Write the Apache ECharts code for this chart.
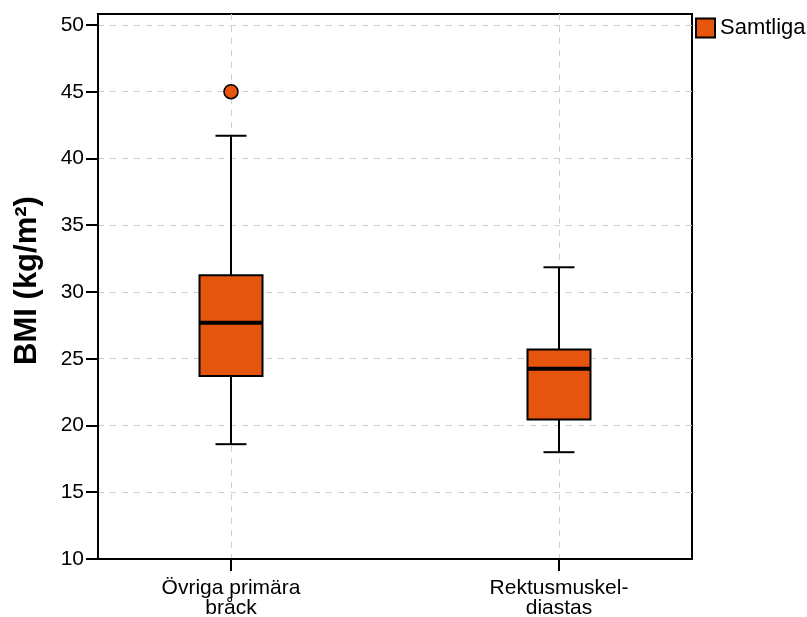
<!DOCTYPE html>
<html><head><meta charset="utf-8">
<script src="https://cdn.jsdelivr.net/npm/echarts@6/dist/echarts.min.js"></script>
<style>html,body{margin:0;padding:0;background:#fff}#c{width:807px;height:617px}</style>
</head><body><div id="c"></div>
<script>
const categories = ['Övriga primära\nbråck', 'Rektusmuskel-\ndiastas'];
const whiskerLow = [18.6, 18.0];
const q1 = [23.7, 20.45];
const median = [27.7, 24.25];
const q3 = [31.25, 25.7];
const whiskerHigh = [41.7, 31.85];
const outlierCategory = [0];
const outlierValue = [45];
const yTicks = [10, 15, 20, 25, 30, 35, 40, 45, 50];
const seriesName = 'Samtliga';

const FONT = '"Liberation Sans", Arial, Helvetica, sans-serif';
const FILL = '#E6550D';

const boxData = categories.map((c, i) => [i, whiskerLow[i], q1[i], median[i], q3[i], whiskerHigh[i]]);
const outlierData = outlierCategory.map((c, i) => [c, outlierValue[i]]);

const chart = echarts.init(document.getElementById('c'), null, {renderer: 'canvas'});
chart.setOption({
  animation: false,
  backgroundColor: '#fff',
  textStyle: {fontFamily: FONT},
  grid: {left: 98, right: 115, top: 14, bottom: 58, show: true, borderColor: '#000', borderWidth: 2, containLabel: false, outerBoundsMode: 'none'},
  legend: {
    data: [seriesName], left: 695, top: 17, padding: 0,
    itemWidth: 19, itemHeight: 19, icon: 'rect',
    textStyle: {fontFamily: FONT, fontSize: 22, color: '#000'},
    itemStyle: {borderColor: '#000', borderWidth: 2}
  },
  xAxis: {
    type: 'value', min: -0.4055, max: 1.4055,
    axisLine: {show: true, onZero: false, lineStyle: {color: '#000', width: 2}},
    axisTick: {show: true, customValues: [0, 1], length: 12, lineStyle: {color: '#000', width: 2}},
    axisLabel: {customValues: [0, 1], formatter: v => categories[Math.round(v)], fontSize: 21, lineHeight: 20, color: '#000', margin: 19, fontFamily: FONT},
    splitLine: {show: true, lineStyle: {color: '#cfcfcf', type: [6, 6], width: 1}}
  },
  yAxis: {
    type: 'value', min: 10, max: 50.82,
    name: 'BMI (kg/m²)', nameLocation: 'middle', nameGap: 55,
    nameTextStyle: {fontSize: 31, fontWeight: 'bold', color: '#000', fontFamily: FONT, padding: [0, 0, 0, 12]},
    axisLine: {show: true, onZero: false, lineStyle: {color: '#000', width: 2}},
    axisTick: {show: true, customValues: yTicks, length: 12, lineStyle: {color: '#000', width: 2}},
    axisLabel: {customValues: yTicks, fontSize: 21, color: '#000', margin: 14, fontFamily: FONT},
    splitLine: {show: true, lineStyle: {color: '#cfcfcf', type: [6, 6], width: 1}}
  },
  series: [
    {
      name: seriesName, type: 'custom',
      itemStyle: {color: FILL, borderColor: '#000', borderWidth: 2},
      encode: {x: 0, y: [1, 2, 3, 4, 5]},
      data: boxData,
      renderItem: function (params, api) {
        const x = api.value(0);
        const pLo = api.coord([x, api.value(1)]);
        const pQ1 = api.coord([x, api.value(2)]);
        const pMed = api.coord([x, api.value(3)]);
        const pQ3 = api.coord([x, api.value(4)]);
        const pHi = api.coord([x, api.value(5)]);
        const cx = pLo[0];
        const boxW = 63, capW = 31;
        const line = {stroke: '#000', lineWidth: 2};
        return {
          type: 'group',
          children: [
            {type: 'line', shape: {x1: cx, y1: pHi[1], x2: cx, y2: pQ3[1]}, style: line},
            {type: 'line', shape: {x1: cx, y1: pQ1[1], x2: cx, y2: pLo[1]}, style: line},
            {type: 'line', shape: {x1: cx - capW / 2, y1: pHi[1], x2: cx + capW / 2, y2: pHi[1]}, style: line},
            {type: 'line', shape: {x1: cx - capW / 2, y1: pLo[1], x2: cx + capW / 2, y2: pLo[1]}, style: line},
            {type: 'rect', shape: {x: cx - boxW / 2, y: pQ3[1], width: boxW, height: pQ1[1] - pQ3[1]}, style: {fill: FILL, stroke: '#000', lineWidth: 2}},
            {type: 'line', shape: {x1: cx - boxW / 2, y1: pMed[1], x2: cx + boxW / 2, y2: pMed[1]}, style: {stroke: '#000', lineWidth: 4}}
          ]
        };
      }
    },
    {
      name: 'outlier', type: 'scatter', symbol: 'circle', symbolSize: 14,
      itemStyle: {color: FILL, borderColor: '#000', borderWidth: 1.5, opacity: 1},
      data: outlierData
    }
  ]
});
</script></body></html>
